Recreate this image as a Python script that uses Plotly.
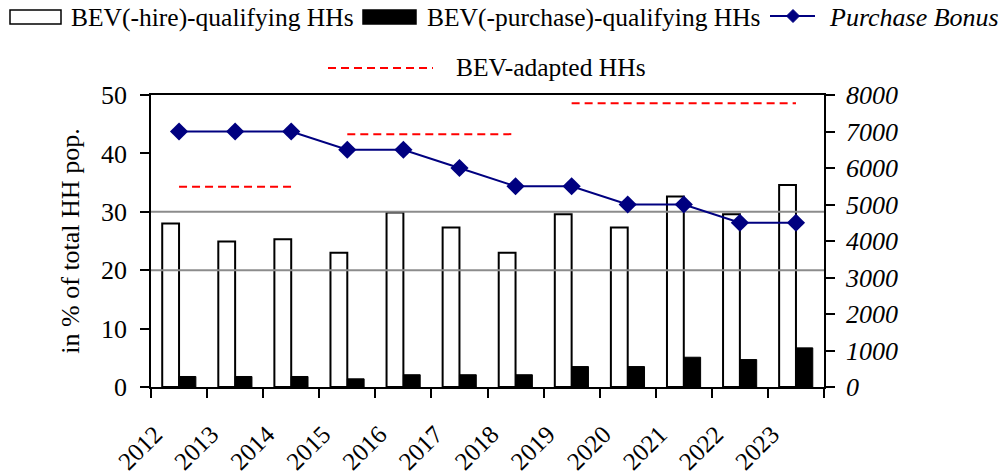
import plotly.graph_objects as go

# --- data -------------------------------------------------------------
years = [2012, 2013, 2014, 2015, 2016, 2017, 2018, 2019, 2020, 2021, 2022, 2023]
hire_qualifying = [28.0, 24.9, 25.3, 23.0, 29.9, 27.3, 23.0, 29.6, 27.3, 32.6, 29.6, 34.6]
purchase_qualifying = [1.8, 1.8, 1.8, 1.4, 2.1, 2.1, 2.1, 3.5, 3.5, 5.1, 4.7, 6.7]
purchase_bonus = [7000, 7000, 7000, 6500, 6500, 6000, 5500, 5500, 5000, 5000, 4500, 4500]

# BEV-adapted households: one level per policy period
adapted_start = [2012, 2015, 2019]
adapted_end = [2014, 2018, 2023]
adapted_level = [34.3, 43.3, 48.6]

# horizontal reference levels on the left axis
ref_levels = [20, 30]

FONT = "Liberation Serif"
FS_LEG = 25.5
FS_TICK = 26
W, H = 1005, 476
L, R, T, B = 151, 181, 95, 89
PW, PH = W - L - R, H - T - B


def px(x):
    return (x - L) / PW


def py(y):
    return (H - B - y) / PH


fig = go.Figure()

fig.add_trace(go.Bar(
    x=years, y=hire_qualifying, name="BEV(-hire)-qualifying HHs",
    marker=dict(color="white", line=dict(color="black", width=2)),
))
fig.add_trace(go.Bar(
    x=years, y=purchase_qualifying, name="BEV(-purchase)-qualifying HHs",
    marker=dict(color="black", line=dict(color="black", width=1)),
))

x_lo, x_hi = years[0] - 0.5, years[-1] + 0.5
for lvl in ref_levels:
    fig.add_trace(go.Scatter(
        x=[x_lo, x_hi], y=[lvl, lvl], mode="lines",
        line=dict(color="#8c8c8c", width=2), hoverinfo="skip",
    ))

for s, e, v in zip(adapted_start, adapted_end, adapted_level):
    fig.add_trace(go.Scatter(
        x=[s, e], y=[v, v], mode="lines", name="BEV-adapted HHs",
        line=dict(color="#ff0000", width=2, dash="8px,5px"),
    ))

fig.add_trace(go.Scatter(
    x=years, y=purchase_bonus, yaxis="y2", name="Purchase Bonus",
    mode="lines+markers",
    line=dict(color="#000080", width=2),
    marker=dict(symbol="diamond", size=14, color="#000080"),
))

# --- legend drawn as shapes and text ---------------------------------
shapes = [
    dict(type="rect", xref="paper", yref="paper",
         x0=px(10), x1=px(61), y0=py(24), y1=py(10),
         fillcolor="white", line=dict(color="black", width=1.5)),
    dict(type="rect", xref="paper", yref="paper",
         x0=px(363), x1=px(416), y0=py(24), y1=py(10),
         fillcolor="black", line=dict(color="black", width=1.5)),
    dict(type="line", xref="paper", yref="paper",
         x0=px(770), x1=px(815), y0=py(16), y1=py(16),
         line=dict(color="#000080", width=2)),
    dict(type="path", xref="paper", yref="paper",
         path=(f"M {px(793)},{py(9.5)} L {px(799.5)},{py(16)} "
               f"L {px(793)},{py(22.5)} L {px(786.5)},{py(16)} Z"),
         fillcolor="#000080", line=dict(color="#000080", width=1)),
    dict(type="line", xref="paper", yref="paper",
         x0=px(328), x1=px(433), y0=py(68), y1=py(68),
         line=dict(color="#ff0000", width=2, dash="8px,5px")),
]

annotations = [
    dict(text="BEV(-hire)-qualifying HHs", x=px(69), y=py(18)),
    dict(text="BEV(-purchase)-qualifying HHs", x=px(425), y=py(18)),
    dict(text="<i>Purchase Bonus</i>", x=px(827), y=py(18), font_size=26),
    dict(text="BEV-adapted HHs", x=px(454), y=py(67)),
]
for a in annotations:
    size = a.pop("font_size", FS_LEG)
    a.update(xref="paper", yref="paper", xanchor="left", yanchor="middle",
             showarrow=False, font=dict(family=FONT, size=size, color="black"))

fig.update_layout(
    width=W, height=H,
    margin=dict(l=L, r=R, t=T, b=B, pad=0),
    paper_bgcolor="white", plot_bgcolor="white",
    barmode="group", bargap=0.4, bargroupgap=0,
    showlegend=False,
    font=dict(family=FONT, size=FS_TICK, color="black"),
    shapes=shapes, annotations=annotations,
    xaxis=dict(
        range=[x_lo, x_hi], tickmode="array", tickvals=years,
        ticktext=[str(y) for y in years], tickangle=-45, ticks="",
        showgrid=False, zeroline=False, automargin=False,
        showline=True, linecolor="black", linewidth=1.5, mirror=True,
        ticklabelstandoff=21, ticklabelshift=-24,
        minor=dict(tickmode="array", tickvals=[x_lo + i for i in range(len(years) + 1)],
                   ticks="outside", ticklen=9, tickcolor="black", tickwidth=1.5,
                   showgrid=False),
        tickfont=dict(family=FONT, size=25),
    ),
    yaxis=dict(
        range=[0, 50], dtick=10, ticks="outside", ticklen=9,
        tickcolor="black", tickwidth=1.5, showgrid=False, zeroline=False,
        showline=True, linecolor="black", linewidth=1.5, automargin=False,
        ticklabelstandoff=8,
        title=dict(text="in % of total HH pop.", standoff=14,
                   font=dict(family=FONT, size=26)),
        tickfont=dict(family=FONT, size=FS_TICK),
    ),
    yaxis2=dict(
        range=[0, 8000], dtick=1000, overlaying="y", side="right",
        ticks="outside", ticklen=9, tickcolor="black", tickwidth=1.5,
        showgrid=False, zeroline=False, automargin=False,
        showline=True, linecolor="black", linewidth=1.5,
        tickfont=dict(family=FONT, size=FS_TICK, style="italic"),
        ticklabelstandoff=6,
    ),
)

fig.write_html("out.html")
